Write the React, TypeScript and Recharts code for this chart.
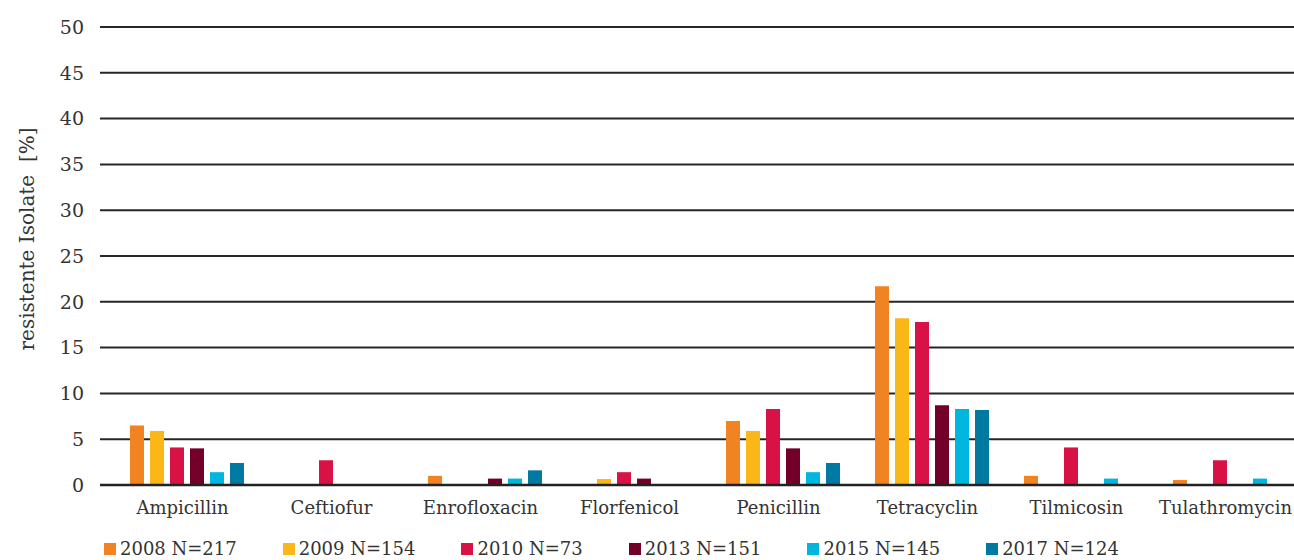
import { Bar, BarChart, CartesianGrid, Legend, XAxis, YAxis } from 'recharts';

const categories = [
  'Ampicillin',
  'Ceftiofur',
  'Enrofloxacin',
  'Florfenicol',
  'Penicillin',
  'Tetracyclin',
  'Tilmicosin',
  'Tulathromycin',
];

const y2008 = [6.5, 0, 1.0, 0, 7.0, 21.7, 1.0, 0.55];
const y2009 = [5.9, 0, 0, 0.65, 5.9, 18.2, 0, 0];
const y2010 = [4.1, 2.7, 0, 1.4, 8.3, 17.8, 4.1, 2.7];
const y2013 = [4.0, 0, 0.7, 0.7, 4.0, 8.7, 0, 0];
const y2015 = [1.4, 0, 0.7, 0, 1.4, 8.3, 0.7, 0.7];
const y2017 = [2.4, 0, 1.6, 0, 2.4, 8.2, 0, 0];

const seriesNames = ['2008 N=217', '2009 N=154', '2010 N=73', '2013 N=151', '2015 N=145', '2017 N=124'];
const seriesColors = ['#f28322', '#fbb617', '#d81245', '#730029', '#00b6de', '#0079a3'];
const seriesValues = [y2008, y2009, y2010, y2013, y2015, y2017];

const yTicks = [0, 5, 10, 15, 20, 25, 30, 35, 40, 45, 50];

const FONT = '"DejaVu Serif", serif';
const TEXT = '#333333';

const data = categories.map((name, i) => {
  const row: Record<string, string | number> = { name };
  seriesNames.forEach((s, k) => {
    row[s] = seriesValues[k][i];
  });
  return row;
});

function LegendContent({ payload }: { payload?: any[] }) {
  return (
    <div style={{ display: 'flex', gap: 46, fontFamily: FONT, fontSize: 18, color: TEXT, lineHeight: '22px' }}>
      {(payload ?? []).map((item) => (
        <div key={item.value} style={{ display: 'flex', alignItems: 'center', gap: 4 }}>
          <span style={{ width: 12, height: 12, background: item.color, display: 'inline-block' }} />
          <span>{item.value}</span>
        </div>
      ))}
    </div>
  );
}

export default function App() {
  return (
    <div
      style={{
        position: 'fixed',
        left: 0,
        top: 0,
        width: 1294,
        height: 560,
        overflow: 'hidden',
        background: '#fff',
      }}
    >
      <BarChart
        width={1310}
        height={560}
        data={data}
        margin={{ top: 27, right: 6, left: 40, bottom: 45 }}
        barSize={14}
        barGap={6}
      >
        <CartesianGrid horizontal vertical={false} stroke="#262626" strokeWidth={2} strokeOpacity={1} />
        <XAxis
          dataKey="name"
          height={30}
          padding={{ left: 12, right: 0 }}
          axisLine={{ stroke: '#222', strokeWidth: 2.5 }}
          tickLine={false}
          tickMargin={10}
          interval={0}
          tick={{ fontFamily: FONT, fontSize: 18, fill: TEXT, dx: -4 }}
        />
        <YAxis
          width={60}
          domain={[0, 50]}
          ticks={yTicks}
          axisLine={false}
          tickLine={false}
          tickMargin={10}
          tick={{ fontFamily: FONT, fontSize: 19, fill: TEXT }}
          label={({ viewBox }: any) => (
            <text
              x={viewBox.x - 13}
              y={viewBox.y + 212}
              transform={`rotate(-90, ${viewBox.x - 13}, ${viewBox.y + 212})`}
              textAnchor="middle"
              dominantBaseline="central"
              fontFamily={FONT}
              fontSize={20}
              fill={TEXT}
            >
              {'resistente Isolate\u00a0\u00a0[%]'}
            </text>
          )}
        />
        <Legend
          layout="horizontal"
          verticalAlign="middle"
          align="center"
          content={<LegendContent />}
          wrapperStyle={{ top: 538, left: 104, width: 'auto' }}
        />
        {seriesNames.map((s, k) => (
          <Bar key={s} dataKey={s} name={s} fill={seriesColors[k]} isAnimationActive={false} />
        ))}
      </BarChart>
    </div>
  );
}
